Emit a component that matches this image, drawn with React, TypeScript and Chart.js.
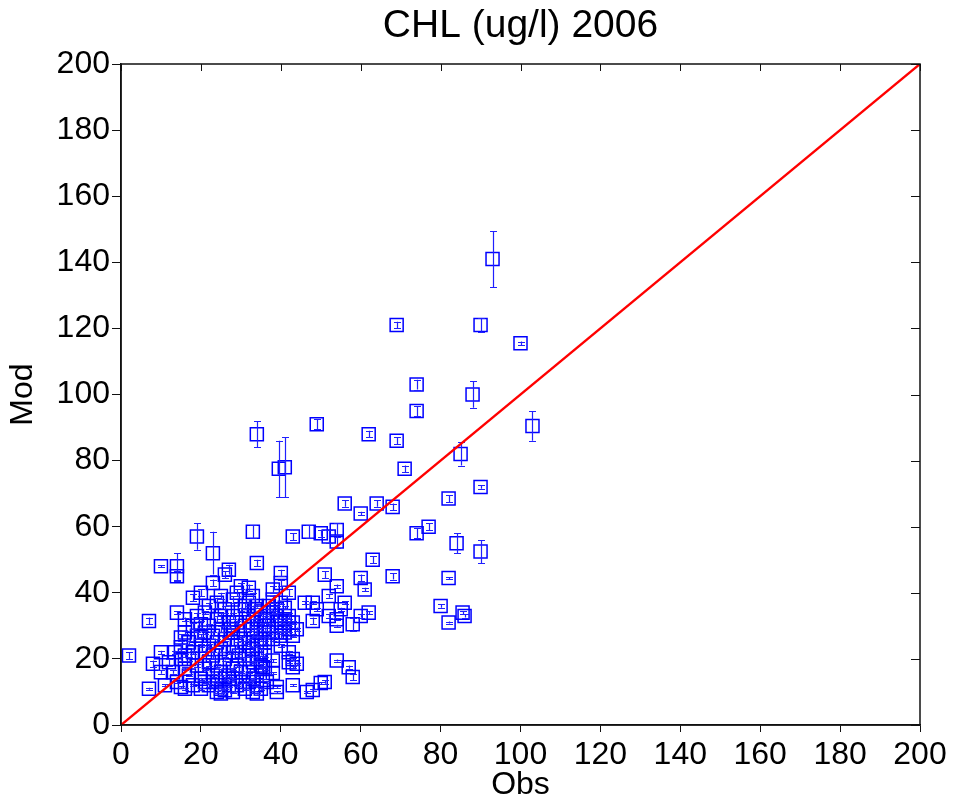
import React, { useEffect, useRef } from "react";
import { Chart, registerables } from "chart.js";

Chart.register(...registerables);

const chartTitle = "CHL (ug/l) 2006";
const xTitle = "Obs";
const yTitle = "Mod";
const axisMin = 0;
const axisMax = 200;
const tickStep = 20;

// Observed values (x)
const obs: number[] = [
  // outliers
  2, 7, 7, 8, 10, 10, 14, 14, 19, 23, 33, 34, 39.5, 41, 43, 49, 47, 50, 52, 54, 54, 56, 60, 62, 63, 64, 68, 69, 69, 71,
  68, 74, 74, 74, 77, 80, 82, 82, 82, 84, 85, 85.5, 86, 88, 90, 90, 90, 93, 100, 103,
  // middle
  40, 40, 51, 54, 60, 61, 38, 42, 52, 46, 48, 49, 56, 55, 52, 54, 54, 48, 58, 60, 62, 54, 57, 58, 50, 51, 48, 46.5, 43,
  39, 39, 42, 43, 42, 38, 38, 35.5, 35.5,
  // cluster 36-44
  37, 38, 39, 40, 41, 42, 37, 39, 40, 38, 41, 36, 37, 42, 39, 40, 41, 38, 36, 40, 43, 42, 44, 43, 41, 44, 43,
  // 14-20
  18, 20, 14, 16, 15, 15, 16, 17, 18, 17, 18, 19, 19, 20, 20, 18, 17, 20, 19, 16,
  // 20-28
  23, 25, 27, 26, 22, 21, 24, 22, 25, 21, 23, 26, 24, 22, 25, 21, 23, 26, 22, 24, 21, 25, 23, 26, 24, 22, 25, 24, 26,
  25, 27, 26, 27, 25, 24, 20, 20, 21, 27, 27, 27.5,
  // 27-31
  30, 32, 29, 28, 30, 28, 29, 31, 28, 30, 29, 28, 31, 29, 30, 28, 29, 31, 28, 31, 27.5, 31, 29.5, 30.5, 28,
  // 31-37
  34, 33, 32, 34, 33.5, 35, 32, 34, 33, 35, 32.5, 34, 33, 35, 32, 34, 33, 35, 32, 34, 33, 35, 32, 34, 33, 32, 34, 35,
  33, 34, 36, 36, 36, 36.5, 36, 36.5,
  // lower left
  11, 13, 13.5, 15, 10, 12, 14, 15, 16, 16,
];

// Model values (y)
const mod: number[] = [
  21, 31.5, 11, 18.5, 48, 22, 48, 45, 57, 52, 58.5, 88, 77.5, 78, 57, 91, 58.5, 58, 57, 59, 55.5, 67, 64, 88, 50, 67, 66,
  121, 86, 77.5, 45, 103, 95, 58, 60, 36, 31, 44.5, 68.5, 55, 82, 34, 33, 100, 72, 121, 52.5, 141, 115.5, 90.5,
  46, 43, 45.5, 42, 44.5, 41, 41, 40, 39, 37, 37, 35, 37, 35, 33, 32, 30, 31.5, 30.5, 33, 34, 19.5, 17.5, 14.5, 12.7,
  13, 10.6, 10, 12, 11.5, 10, 19, 17.5, 22, 19.5, 15.7, 13.6, 17.5,
  36, 34, 33, 31, 30, 29, 30, 28, 27, 26, 32, 32, 28, 31, 35, 37, 35.5, 38, 26, 24, 27, 33, 29, 31, 28, 18.5, 20,
  38.5, 40, 34, 32, 26.5, 23.5, 28, 25, 30, 20, 22, 27, 18, 24, 14, 12, 15, 11, 33, 21,
  43, 39, 47, 45.5, 36, 34, 32, 30, 29, 28, 27, 26, 25, 24, 23, 22, 21, 20, 19, 18, 17, 16, 15, 14, 13, 12, 11, 10,
  10.5, 9.5, 12, 35, 31, 33, 37, 27, 30.5, 13, 15, 22, 28,
  42, 41.5, 40, 38, 35, 33, 31, 30, 28, 26, 24, 22, 20, 18, 16, 14, 12, 11, 10, 36, 29, 25, 21, 13, 17,
  49, 39, 37, 36, 35, 34, 33, 32, 31, 30, 29, 28, 27, 26, 25, 24, 23, 22, 21, 20, 19, 18, 16, 15, 14, 13, 12, 11, 10,
  9.5, 17, 25, 29, 33, 21, 13,
  12, 16, 22, 11.5, 16, 19, 13, 20, 17, 11,
];

// Half-width of the error bar on the model value
const err: number[] = [
  1, 1, 0.3, 1, 0.3, 0.5, 4, 1.5, 4, 6.5, 2, 4, 8.5, 9, 1, 1.5, 2, 1, 2, 2, 2, 1, 0.5, 1, 1, 1, 1, 1, 1, 1, 1, 1.5,
  1.5, 1.5, 1, 0.5, 0.3, 0.3, 1, 3, 3.5, 0.5, 0.5, 4, 0.5, 2, 3.5, 8.5, 0.5, 4.5,
  1, 1, 1, 0.5, 1, 0.5, 1, 1, 0.5, 0.5, 0.5, 0.5, 0.5, 0.5, 0.5, 0.3, 0.3, 1, 2, 0.5, 0.5, 0.3, 0.5, 1, 0.3, 0.5, 0.3,
  0.3, 0.3, 0.3, 0.3, 0.3, 0.3, 0.5, 0.5, 0.3, 0.3, 0.3,
  1, 0.5, 1, 0.5, 0.5, 1, 0.5, 0.5, 1, 0.5, 0.5, 1, 0.5, 0.5, 1, 0.5, 0.5, 1, 0.5, 0.5, 0.5, 1, 0.5, 0.5, 0.5, 0.3, 0.3,
  1, 1, 0.5, 0.5, 1, 1, 0.5, 0.5, 1, 0.5, 0.5, 1, 0.5, 0.5, 0.3, 0.3, 0.3, 0.3, 1, 0.5,
  1, 1, 1.5, 1, 1, 0.5, 1, 0.5, 1, 0.5, 1, 0.5, 1, 0.5, 1, 0.5, 1, 0.5, 1, 0.5, 0.5, 1, 0.5, 0.5, 0.3, 0.5, 0.3, 0.3,
  0.5, 0.3, 0.5, 1, 1, 1, 1.5, 0.5, 1, 0.3, 0.5, 0.5, 1,
  1, 1, 1, 1, 0.5, 1, 0.5, 1, 0.5, 0.5, 1, 0.5, 0.5, 0.5, 0.3, 0.3, 0.3, 0.3, 0.3, 1, 0.5, 0.5, 0.5, 0.3, 0.3,
  1, 1, 1, 0.5, 1, 0.5, 1, 0.5, 1, 0.5, 0.5, 1, 0.5, 0.5, 1, 0.5, 0.5, 1, 0.5, 0.5, 0.3, 0.5, 0.3, 0.3, 0.3, 0.3,
  0.3, 0.3, 0.3, 0.3, 0.5, 0.5, 0.5, 0.5, 0.5, 0.3,
  0.3, 0.5, 0.5, 0.3, 0.5, 1, 0.3, 0.5, 0.5, 0.3,
];

// 1:1 reference line
const lineX = [0, 200];
const lineY = [0, 200];

const FONT = "'Liberation Sans', Arial, Helvetica, sans-serif";
const BLUE = "#0000ff";

const errorBarPlugin = {
  id: "errorBars",
  afterDatasetDraw(chart: any, args: any) {
    if (args.index !== 0) return;
    const { ctx, scales } = chart;
    const xs = scales.x;
    const ys = scales.y;
    ctx.save();
    ctx.strokeStyle = "#2020ff";
    ctx.lineWidth = 1.2;
    for (let i = 0; i < obs.length; i++) {
      const e = err[i] ?? 0;
      const px = Math.round(xs.getPixelForValue(obs[i])) + 0.5;
      const top = ys.getPixelForValue(mod[i] + e);
      const bot = ys.getPixelForValue(mod[i] - e);
      ctx.beginPath();
      ctx.moveTo(px, top);
      ctx.lineTo(px, bot);
      ctx.moveTo(px - 3.5, Math.round(top) + 0.5);
      ctx.lineTo(px + 3.5, Math.round(top) + 0.5);
      ctx.moveTo(px - 3.5, Math.round(bot) + 0.5);
      ctx.lineTo(px + 3.5, Math.round(bot) + 0.5);
      ctx.stroke();
    }
    ctx.restore();
  },
};

const framePlugin = {
  id: "frame",
  afterDraw(chart: any) {
    const { ctx, chartArea, scales } = chart;
    const { left, right, top, bottom } = chartArea;
    ctx.save();
    ctx.strokeStyle = "#111";
    ctx.lineWidth = 1.5;
    ctx.strokeRect(left, top, right - left, bottom - top);
    ctx.lineWidth = 1;
    ctx.beginPath();
    for (let v = axisMin; v <= axisMax; v += tickStep) {
      const px = Math.round(scales.x.getPixelForValue(v)) + 0.5;
      ctx.moveTo(px, top);
      ctx.lineTo(px, top + 7);
      const py = Math.round(scales.y.getPixelForValue(v)) + 0.5;
      ctx.moveTo(right, py);
      ctx.lineTo(right - 9, py);
    }
    ctx.stroke();
    ctx.restore();
  },
};

export default function App() {
  const canvasRef = useRef<HTMLCanvasElement | null>(null);

  useEffect(() => {
    document.body.style.margin = "0";
    const canvas = canvasRef.current;
    if (!canvas) return;
    Chart.defaults.font.family = FONT;
    Chart.defaults.color = "#000";

    const points = obs.map((x, i) => ({ x, y: mod[i] }));
    const line = lineX.map((x, i) => ({ x, y: lineY[i] }));

    const chart = new Chart(canvas, {
      type: "scatter",
      data: {
        datasets: [
          {
            label: "Mod vs Obs",
            data: points,
            pointStyle: "rect",
            pointRadius: 9.2,
            pointHoverRadius: 9.2,
            pointBorderWidth: 1.5,
            borderColor: BLUE,
            backgroundColor: "rgba(0,0,0,0)",
            order: 1,
          },
          {
            label: "1:1",
            data: line,
            showLine: true,
            borderColor: "#ff0000",
            borderWidth: 2.4,
            pointRadius: 0,
            order: 0,
          },
        ],
      },
      options: {
        animation: false,
        responsive: false,
        layout: { padding: { left: 0, right: 35, top: 0, bottom: 0 } },
        plugins: {
          legend: { display: false },
          tooltip: { enabled: false },
          title: {
            display: true,
            text: chartTitle,
            fullSize: false,
            color: "#000",
            font: { size: 39, weight: "normal", family: FONT, lineHeight: 1.2 },
            padding: { top: 3, bottom: 14.2 },
          },
        },
        scales: {
          x: {
            type: "linear",
            min: axisMin,
            max: axisMax,
            ticks: { stepSize: tickStep, font: { size: 32, family: FONT }, color: "#000", padding: 4, maxRotation: 0 },
            grid: { drawOnChartArea: false, drawTicks: true, tickLength: 7, color: "#111", tickWidth: 1 },
            border: { display: true, color: "#111", width: 1.5 },
            title: { display: true, text: xTitle, color: "#000", font: { size: 32, family: FONT }, padding: { top: 0, bottom: 2 } },
            afterFit: (s: any) => {
              s.height = 81;
            },
          },
          y: {
            type: "linear",
            min: axisMin,
            max: axisMax,
            ticks: { stepSize: tickStep, font: { size: 32, family: FONT }, color: "#000", padding: 2 },
            grid: { drawOnChartArea: false, drawTicks: true, tickLength: 9, color: "#111", tickWidth: 1 },
            border: { display: true, color: "#111", width: 1.5 },
            title: { display: true, text: yTitle, color: "#000", font: { size: 32, family: FONT }, padding: { top: 4, bottom: 0 } },
            afterFit: (s: any) => {
              s.width = 121;
            },
          },
        },
      },
      plugins: [errorBarPlugin, framePlugin],
    });

    return () => chart.destroy();
  }, []);

  return (
    <div style={{ width: 955, height: 806, background: "#fff" }}>
      <canvas ref={canvasRef} width={955} height={806} style={{ display: "block" }} />
    </div>
  );
}
